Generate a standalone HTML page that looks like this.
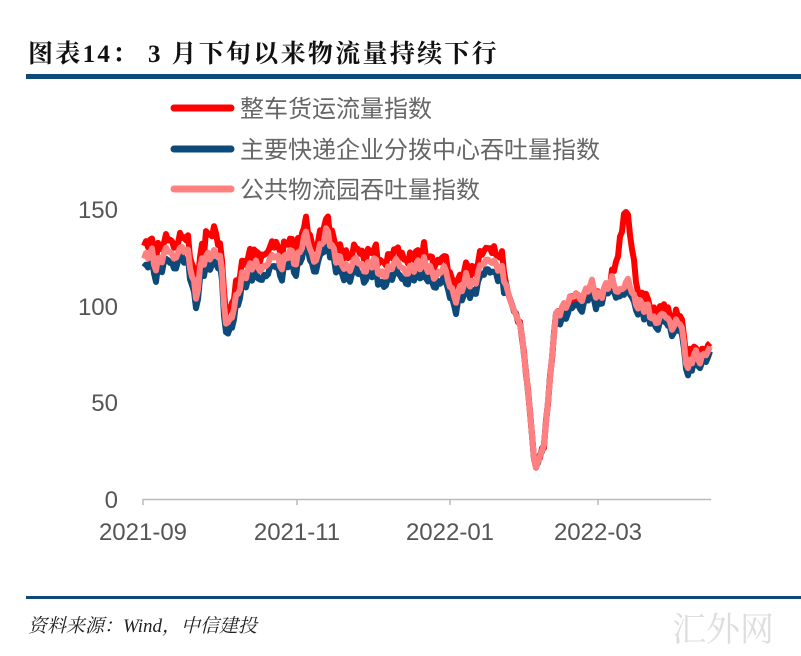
<!DOCTYPE html>
<html><head><meta charset="utf-8"><style>
body{margin:0;background:#fff;width:801px;height:656px;overflow:hidden;position:relative;font-family:"Liberation Sans","Noto Sans CJK SC",sans-serif}
.t{position:absolute;white-space:nowrap}
</style></head><body>
<div class="t" style="left:28px;top:34px;font-size:25px;font-weight:bold;color:#111;letter-spacing:2.3px;font-family:'Liberation Serif','Noto Serif CJK SC','Noto Sans CJK SC',serif">图表14： 3 月下旬以来物流量持续下行</div>
<div style="position:absolute;left:26px;top:74px;width:775px;height:5px;background:#0d4a7a"></div>
<svg width="801" height="656" style="position:absolute;left:0;top:0">
<g stroke-linecap="round" stroke-width="7">
<line x1="174" y1="108" x2="231" y2="108" stroke="#ff0000"/>
<line x1="174" y1="149" x2="231" y2="149" stroke="#0d4a7a"/>
<line x1="174" y1="189" x2="231" y2="189" stroke="#ff8080"/>
</g>
<g font-size="24" fill="#666" font-family="Liberation Sans,Noto Sans CJK SC,sans-serif">
<text x="240" y="117">整车货运流量指数</text>
<text x="240" y="158">主要快递企业分拨中心吞吐量指数</text>
<text x="240" y="198">公共物流园吞吐量指数</text>
</g>
<g font-size="24" fill="#555" text-anchor="end" font-family="Liberation Sans,sans-serif">
<text x="118" y="218">150</text><text x="118" y="315">100</text><text x="118" y="411">50</text><text x="118" y="508">0</text>
</g>
<g font-size="24" fill="#555" text-anchor="middle" font-family="Liberation Sans,sans-serif">
<text x="143" y="540">2021-09</text><text x="297" y="540">2021-11</text><text x="450" y="540">2022-01</text><text x="598" y="540">2022-03</text>
</g>
<line x1="143" y1="499.5" x2="711" y2="499.5" stroke="#bbb" stroke-width="1.5"/>
<g stroke="#bbb" stroke-width="1.5"><line x1="143" y1="499" x2="143" y2="505"/><line x1="297" y1="499" x2="297" y2="505"/><line x1="450" y1="499" x2="450" y2="505"/><line x1="598" y1="499" x2="598" y2="505"/></g>
<g id="s" fill="none" stroke-width="6" stroke-linejoin="round"></g>
</svg>
<div style="position:absolute;left:26px;top:596px;width:775px;height:3px;background:#0d4a7a"></div>
<div class="t" style="left:28px;top:611px;font-size:19px;font-style:italic;color:#222;font-family:'Liberation Serif','Noto Serif CJK SC',serif">资料来源：Wind，中信建投</div>
<div class="t" style="left:672px;top:602px;font-size:34px;color:#ddd;font-family:'Noto Serif CJK SC',serif">汇外网</div>
<script>
var p=[[144,260],[151,250],[155,267],[169,247],[173,260],[182,247],[188,253],[196,297],[202,260],[215,253],[221,257],[225,320],[229,325],[236,300],[242,277],[254,263],[262,270],[275,253],[281,267],[289,250],[296,263],[306,233],[314,263],[327,230],[335,257],[349,270],[356,258],[364,270],[374,260],[382,277],[397,260],[405,273],[413,267],[424,263],[436,277],[444,267],[455,300],[467,277],[473,287],[482,263],[490,260],[502,270],[511,303],[521,327],[529,400],[535,470],[544,445],[556,313],[564,307],[575,293],[581,300],[591,283],[598,297],[612,280],[618,293],[629,280],[635,303],[647,307],[655,323],[664,313],[672,327],[680,320],[688,370],[694,353],[700,360],[711,347]];
function interp(a,x){for(var i=0;i<a.length-1;i++){if(x>=a[i][0]&&x<=a[i+1][0]){var t=(x-a[i][0])/(a[i+1][0]-a[i][0]);return a[i][1]+t*(a[i+1][1]-a[i][1]);}}return a[a.length-1][1];}
function wig(x){if(x>505&&x<560)return 0;return 4*Math.sin(x*0.9)+2*Math.sin(x*2.1);}
var P=[],B=[],R=[];
for(var x=144;x<=711;x+=2){
 var y=interp(p,x)+wig(x);
 P.push([x,y]);
 var bo=(x>505&&x<560)?0:(x>600?6:10);
 B.push([x,y+bo+1.5*Math.sin(x*1.3)]);
 var ro=x<505?-12:(x<560?0:(x<612?2:-5));
 if(x>=205&&x<=216)ro=-22;
 if(x>=612&&x<=640){var sp=x<625?(x-612)/13:(640-x)/15;ro+=-72*Math.max(0,Math.min(1,sp));}
 if(x>=640&&x<=690)ro=-8;
 R.push([x,y+ro+3*Math.sin(x*1.7)]);
}
function pl(a,c){return '<polyline stroke="'+c+'" points="'+a.map(function(q){return q[0]+','+q[1].toFixed(1)}).join(' ')+'"/>';}
document.getElementById('s').innerHTML=pl(R,'#ff0000')+pl(B,'#0d4a7a')+pl(P,'#ff8080');
</script>
</body></html>
